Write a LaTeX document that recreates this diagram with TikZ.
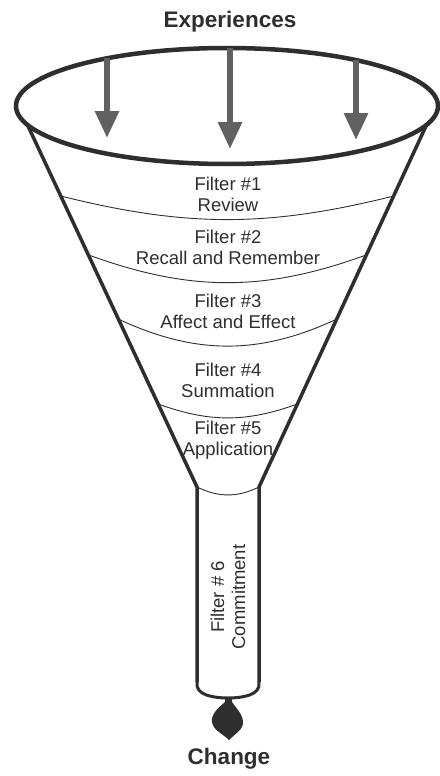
\documentclass[tikz,border=0pt]{standalone}
\usepackage{fontspec}
\setmainfont{Liberation Sans}
\usepackage{xcolor}
\colorlet{myink}{black!82}
\colorlet{mygray}{black!62}
\usetikzlibrary{arrows.meta}
\usetikzlibrary{calc}

\begin{document}
\begin{tikzpicture}[x=1pt,y=-1pt,
    filtertext/.style={myink,align=center,font=\fontsize{18.5}{21}\selectfont},
    bigtext/.style={myink,font=\bfseries\fontsize{22.5}{26}\selectfont},
    filterline/.style={myink,line width=0.9pt},
    rim/.style={myink,line width=3.5pt},
    droparrow/.style={mygray,line width=6pt,-{Triangle[width=23pt,length=27pt]}}]
        \useasboundingbox (0,0) rectangle (439,776);
        % funnel and tube
        \coordinate (tl) at (28,126);
        \coordinate (tr) at (426,126);
        \coordinate (bl) at (197,487);
        \coordinate (br) at (259,487);
        \coordinate (tubel) at (197,682);
        \coordinate (tuber) at (259,682);
        \coordinate (tip) at (228,698);
        \draw[rim] (tl) -- (bl) -- (tubel);
        \draw[rim] (tr) -- (br) -- (tuber);
        \draw[rim,line width=3pt] (tubel) to[out=-100,in=180] (tip) to[out=0,in=-80] (tuber);
        % filter boundaries
        \foreach \f/\b in {0.194/14,0.357/20,0.535/25,0.770/20,1/26}
          \draw[filterline] ($(tl)!\f!(bl)$) to[bend right=\b] ($(tr)!\f!(br)$);
        % rim
        \draw[rim,line width=4.5pt] (227,106) ellipse [x radius=211, y radius=58];
        % arrows
        \coordinate (in1) at (107,58);
        \coordinate (out1) at (107,138);
        \coordinate (in2) at (230,48);
        \coordinate (out2) at (230,149);
        \coordinate (in3) at (356,60);
        \coordinate (out3) at (356,140);
        \foreach \i in {1,2,3}
          \draw[droparrow] (in\i) -- (out\i);
        % texts
        \node[bigtext] (experiences) at (230,22) {Experiences};
        \node[filtertext] (f1) at (228,194) {Filter \#1\\Review};
        \node[filtertext] (f2) at (228,247) {Filter \#2\\Recall and Remember};
        \node[filtertext] (f3) at (228,311) {Filter \#3\\Affect and Effect};
        \node[filtertext] (f4) at (228,380) {Filter \#4\\Summation};
        \node[filtertext] (f5) at (228,440) {Filter \#5\\Application};
        \node[filtertext,rotate=90] (f6) at (228,597) {Filter \# 6\\Commitment};
        \node[bigtext] (change) at (229,759) {Change};
        % drop
        \fill[myink] (225,698) -- (225,702) .. controls (218,708) and (211,714) .. (212,722)
          .. controls (213,730) and (223,734) .. (229,740)
          .. controls (236,733) and (244,729) .. (243,721)
          .. controls (242,713) and (235,707) .. (232,702) -- (232,698) -- cycle;
      \end{tikzpicture}
\end{document}
